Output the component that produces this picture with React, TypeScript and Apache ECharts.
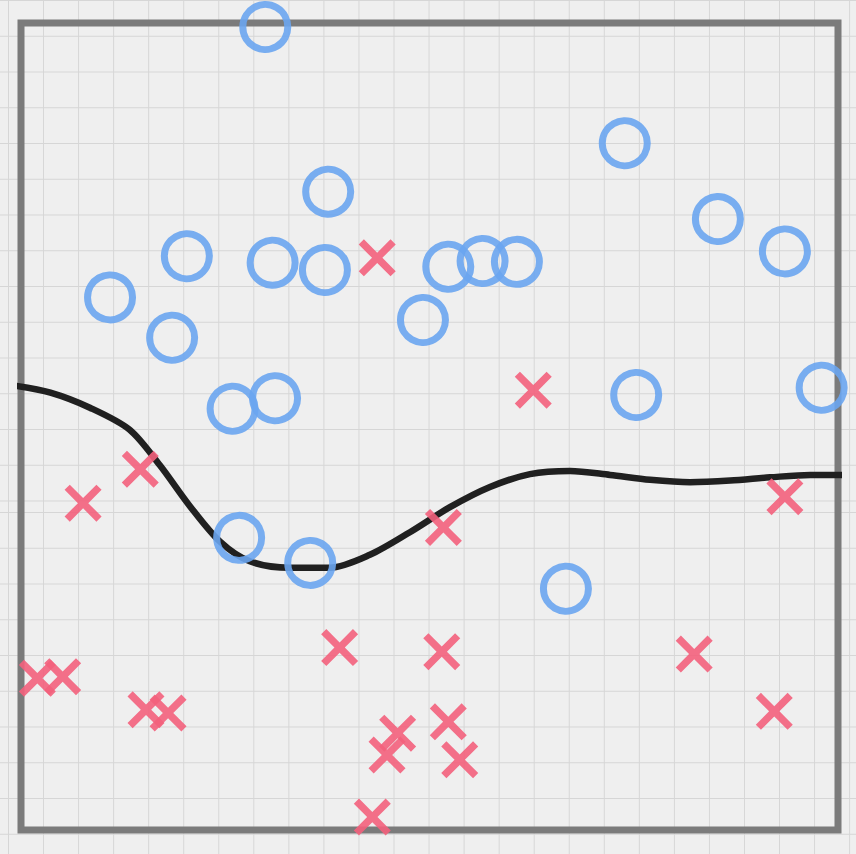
import React, { useEffect, useRef } from "react";
import * as echarts from "echarts";

// Class A (blue circles): [x, y]
const circlePoints: number[][] = [
  [29.9, 99.5], [73.9, 85.1], [37.6, 79.1], [85.3, 75.7], [20.3, 71.1],
  [30.8, 70.3], [37.2, 69.4], [52.3, 69.8], [56.5, 70.5], [60.7, 70.4],
  [93.5, 71.7], [10.9, 66.0], [18.5, 61.0], [49.2, 63.2], [75.3, 53.9],
  [98.0, 54.8], [25.9, 52.2], [31.1, 53.5], [26.7, 36.2], [35.4, 33.1],
  [66.7, 29.9],
];

// Class B (red crosses): [x, y]
const crossPoints: number[][] = [
  [43.6, 70.9], [62.7, 54.5], [14.6, 44.7], [7.6, 40.5], [93.5, 41.3],
  [51.7, 37.5], [39.0, 22.6], [51.5, 22.1], [82.4, 21.8], [2.0, 18.8],
  [5.1, 19.0], [15.3, 14.9], [18.0, 14.5], [92.2, 14.7], [46.1, 12.0],
  [44.8, 9.3], [52.3, 13.4], [53.7, 8.7], [43.0, 1.6],
];

// Decision boundary: x and y
const boundaryX: number[] = [
  -1.0, 3.6, 8.5, 13.3, 17.0, 20.7, 24.4, 28.0, 32.9, 37.8, 42.7, 47.6,
  52.5, 57.4, 62.3, 67.2, 72.1, 77.0, 81.9, 86.8, 91.7, 96.6, 101.2,
];
const boundaryY: number[] = [
  55.1, 54.2, 52.3, 49.6, 45.2, 40.1, 35.7, 33.3, 32.5, 32.5, 34.1, 36.9,
  40.0, 42.5, 44.1, 44.5, 44.0, 43.4, 43.1, 43.3, 43.7, 44.0, 44.0,
];

const crossPath =
  "path://M14 0 L50 36 L86 0 L100 14 L64 50 L100 86 L86 100 L50 64 L14 100 L0 86 L36 50 L0 14 Z";

const paper = (top: number, height: number): React.CSSProperties => ({
  position: "absolute",
  left: 0,
  top,
  width: 856,
  height,
  backgroundColor: "#efefef",
  backgroundImage:
    "linear-gradient(to right, #d6d6d6 1px, transparent 1px), linear-gradient(to bottom, #d6d6d6 1px, transparent 1px)",
  backgroundSize: "35.05px 35.75px",
  backgroundPosition: "8px 0px",
});

export default function App() {
  const ref = useRef<HTMLDivElement>(null);

  useEffect(() => {
    if (!ref.current) return;
    const chart = echarts.init(ref.current, null, { renderer: "svg" });
    chart.setOption({
      animation: false,
      backgroundColor: "transparent",
      grid: {
        left: 21,
        top: 23,
        right: 18,
        bottom: 24,
        show: true,
        borderColor: "#7b7b7b",
        borderWidth: 7,
        backgroundColor: "transparent",
      },
      xAxis: {
        type: "value",
        min: 0,
        max: 100,
        show: false,
        splitLine: { show: false },
      },
      yAxis: {
        type: "value",
        min: 0,
        max: 100,
        show: false,
        splitLine: { show: false },
      },
      series: [
        {
          type: "line",
          data: boundaryX.map((x, i) => [x, boundaryY[i]]),
          smooth: 0.3,
          symbol: "none",
          clip: false,
          lineStyle: { color: "#202020", width: 6.5 },
          z: 2,
        },
        {
          type: "scatter",
          data: circlePoints,
          symbol: "circle",
          symbolSize: 45,
          clip: false,
          itemStyle: {
            color: "transparent",
            borderColor: "#6aa5f0",
            borderWidth: 7,
            opacity: 0.9,
          },
          z: 3,
        },
        {
          type: "scatter",
          data: crossPoints,
          symbol: crossPath,
          symbolSize: 37,
          clip: false,
          itemStyle: { color: "#f3607c", opacity: 0.9 },
          z: 3,
        },
      ],
    });
    return () => chart.dispose();
  }, []);

  return (
    <div style={{ position: "absolute", left: 0, top: 0, width: 856, height: 854, overflow: "hidden" }}>
      <div style={paper(0, 512)} />
      <div style={paper(512, 342)} />
      <div ref={ref} style={{ position: "absolute", left: 0, top: 0, width: 856, height: 854 }} />
    </div>
  );
}
